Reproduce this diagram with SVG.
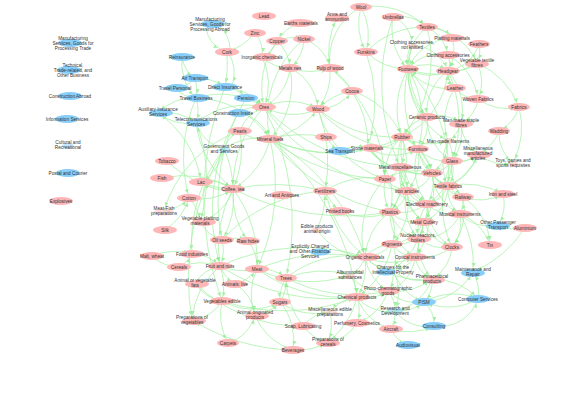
<svg xmlns="http://www.w3.org/2000/svg" width="585" height="413" viewBox="0 0 585 413">
<style>
.e{fill:none;stroke:#a3f2a3;stroke-width:0.9;opacity:0.8;marker-end:url(#ah)}
.g{fill:#ffb6b6}
.s{fill:#87cefa}
.f{fill:#ffb6b6;opacity:0.5}
.fs{fill:#87cefa;opacity:0.5}
text{font-family:"Liberation Sans",Arial,sans-serif;font-size:4.7px;fill:#333;text-anchor:middle}
</style>
<defs>
<marker id="ah" markerUnits="userSpaceOnUse" markerWidth="4" markerHeight="4" refX="9" refY="2" orient="auto">
<path d="M0,0 L4,2 L0,4 z" fill="#8eec8e"/>
</marker>
</defs>
<rect width="585" height="413" fill="#fff"/>
<g id="connectors">
<path class="e" d="M206 28 A30 30 0 0 0 222 50"/>
<path class="e" d="M230 49 A30 30 0 0 0 220 27"/>
<path class="e" d="M255 33 A60 60 0 0 1 227 52"/>
<path class="e" d="M227 52 A120 120 0 0 1 225 87"/>
<path class="e" d="M228 52 A40 40 0 0 1 232 86"/>
<path class="e" d="M182 57 A30 30 0 0 0 195 78"/>
<path class="e" d="M182 57 A50 50 0 0 0 196 98"/>
<path class="e" d="M195 78 A30 30 0 0 1 175 88"/>
<path class="e" d="M195 78 A40 40 0 0 1 196 98"/>
<path class="e" d="M195 78 A50 50 0 0 1 225 87"/>
<path class="e" d="M175 88 A30 30 0 0 0 196 98"/>
<path class="e" d="M225 87 A30 30 0 0 1 246 98"/>
<path class="e" d="M225 87 A60 60 0 0 1 264 107"/>
<path class="e" d="M196 98 A80 80 0 0 1 264 107"/>
<path class="e" d="M246 98 A30 30 0 0 1 264 107"/>
<path class="e" d="M238 113 A40 40 0 0 1 264 107"/>
<path class="e" d="M240 131 A40 40 0 0 1 264 107"/>
<path class="e" d="M196 123 A80 80 0 0 1 264 107"/>
<path class="e" d="M158 113 A50 50 0 0 1 196 123"/>
<path class="e" d="M196 123 A50 50 0 0 1 158 113"/>
<path class="e" d="M196 98 A50 50 0 0 0 158 113"/>
<path class="e" d="M196 98 A40 40 0 0 1 196 123"/>
<path class="e" d="M224 149 A40 40 0 0 1 196 123"/>
<path class="e" d="M224 149 A30 30 0 0 1 240 131"/>
<path class="e" d="M224 149 A60 60 0 0 1 270 139"/>
<path class="e" d="M240 131 A40 40 0 0 0 270 139"/>
<path class="e" d="M238 113 A40 40 0 0 1 270 139"/>
<path class="e" d="M196 98 A90 90 0 0 1 270 139"/>
<path class="e" d="M300 23 A40 40 0 0 0 277 41"/>
<path class="e" d="M277 41 A30 30 0 0 1 262 57"/>
<path class="e" d="M255 33 A30 30 0 0 1 262 57"/>
<path class="e" d="M277 41 A40 40 0 0 1 290 68"/>
<path class="e" d="M304 39 A40 40 0 0 1 290 68"/>
<path class="e" d="M304 39 A40 40 0 0 1 330 68"/>
<path class="e" d="M290 68 A60 60 0 0 0 330 68"/>
<path class="e" d="M330 68 A80 80 0 0 1 337 18"/>
<path class="e" d="M262 57 A40 40 0 0 0 290 68"/>
<path class="e" d="M277 41 A40 40 0 0 1 304 39"/>
<path class="e" d="M361 7 A60 60 0 0 1 366 52"/>
<path class="e" d="M361 7 A60 60 0 0 0 366 52"/>
<path class="e" d="M361 7 A60 60 0 0 0 330 68"/>
<path class="e" d="M352 91 A60 60 0 0 0 330 68"/>
<path class="e" d="M277 41 A80 80 0 0 0 264 107"/>
<path class="e" d="M290 68 A50 50 0 0 1 264 107"/>
<path class="e" d="M262 57 A60 60 0 0 1 264 107"/>
<path class="e" d="M304 39 A100 100 0 0 0 270 139"/>
<path class="e" d="M290 68 A80 80 0 0 1 270 139"/>
<path class="e" d="M290 68 A50 50 0 0 1 318 109"/>
<path class="e" d="M264 107 A60 60 0 0 1 318 109"/>
<path class="e" d="M318 109 A60 60 0 0 1 264 107"/>
<path class="e" d="M318 109 A40 40 0 0 0 352 91"/>
<path class="e" d="M352 91 A60 60 0 0 0 318 109"/>
<path class="e" d="M330 68 A60 60 0 0 1 318 109"/>
<path class="e" d="M270 139 A120 120 0 0 1 326 137"/>
<path class="e" d="M326 137 A40 40 0 0 0 340 151"/>
<path class="e" d="M366 52 A150 150 0 0 1 370 140"/>
<path class="e" d="M352 91 A100 100 0 0 1 368 148"/>
<path class="e" d="M318 109 A120 120 0 0 0 402 137"/>
<path class="e" d="M270 139 A80 80 0 0 0 318 109"/>
<path class="e" d="M224 149 A100 100 0 0 1 233 189"/>
<path class="e" d="M240 131 A100 100 0 0 1 233 189"/>
<path class="e" d="M196 123 A100 100 0 0 0 233 189"/>
<path class="e" d="M158 113 A100 100 0 0 1 201 182"/>
<path class="e" d="M224 149 A50 50 0 0 1 201 182"/>
<path class="e" d="M238 113 A200 200 0 0 0 220 266"/>
<path class="e" d="M196 98 A150 150 0 0 0 189 198"/>
<path class="e" d="M264 107 A120 120 0 0 0 233 189"/>
<path class="e" d="M270 139 A80 80 0 0 1 233 189"/>
<path class="e" d="M246 98 A200 200 0 0 0 222 240"/>
<path class="e" d="M225 87 A300 300 0 0 0 222 301"/>
<path class="e" d="M270 139 A200 200 0 0 1 257 269"/>
<path class="e" d="M264 107 A250 250 0 0 1 286 278"/>
<path class="e" d="M270 139 A200 200 0 0 1 365 257"/>
<path class="e" d="M270 139 A200 200 0 0 0 390 212"/>
<path class="e" d="M270 139 A250 250 0 0 1 357 297"/>
<path class="e" d="M270 139 A150 150 0 0 0 402 137"/>
<path class="e" d="M270 139 A150 150 0 0 0 368 148"/>
<path class="e" d="M264 107 A200 200 0 0 0 400 167"/>
<path class="e" d="M264 107 A200 200 0 0 0 407 191"/>
<path class="e" d="M224 149 A150 150 0 0 0 192 254"/>
<path class="e" d="M196 123 A150 150 0 0 1 200 222"/>
<path class="e" d="M224 149 A250 250 0 0 0 192 320"/>
<path class="e" d="M240 131 A120 120 0 0 0 164 211"/>
<path class="e" d="M167 161 A100 100 0 0 0 233 189"/>
<path class="e" d="M162 178 A100 100 0 0 1 233 189"/>
<path class="e" d="M201 182 A40 40 0 0 1 233 189"/>
<path class="e" d="M233 189 A40 40 0 0 1 201 182"/>
<path class="e" d="M189 198 A60 60 0 0 0 233 189"/>
<path class="e" d="M164 211 A40 40 0 0 0 189 198"/>
<path class="e" d="M189 198 A40 40 0 0 1 200 222"/>
<path class="e" d="M165 230 A60 60 0 0 0 189 198"/>
<path class="e" d="M233 189 A50 50 0 0 1 200 222"/>
<path class="e" d="M200 222 A40 40 0 0 0 222 240"/>
<path class="e" d="M233 189 A80 80 0 0 1 222 240"/>
<path class="e" d="M222 240 A40 40 0 0 1 248 241"/>
<path class="e" d="M233 189 A80 80 0 0 0 248 241"/>
<path class="e" d="M222 240 A40 40 0 0 1 220 266"/>
<path class="e" d="M192 254 A40 40 0 0 1 220 266"/>
<path class="e" d="M179 267 A30 30 0 0 0 192 254"/>
<path class="e" d="M152 256 A40 40 0 0 0 179 267"/>
<path class="e" d="M152 256 A60 60 0 0 1 192 254"/>
<path class="e" d="M220 266 A60 60 0 0 0 257 269"/>
<path class="e" d="M248 241 A40 40 0 0 1 257 269"/>
<path class="e" d="M220 266 A40 40 0 0 0 235 284"/>
<path class="e" d="M235 284 A40 40 0 0 0 257 269"/>
<path class="e" d="M195 283 A40 40 0 0 1 220 266"/>
<path class="e" d="M179 267 A60 60 0 0 1 220 266"/>
<path class="e" d="M195 283 A40 40 0 0 0 222 301"/>
<path class="e" d="M220 266 A60 60 0 0 1 222 301"/>
<path class="e" d="M222 301 A40 40 0 0 1 192 320"/>
<path class="e" d="M220 266 A80 80 0 0 0 192 320"/>
<path class="e" d="M233 189 A120 120 0 0 0 220 266"/>
<path class="e" d="M233 189 A120 120 0 0 1 257 269"/>
<path class="e" d="M257 269 A40 40 0 0 1 286 278"/>
<path class="e" d="M280 302 A40 40 0 0 0 286 278"/>
<path class="e" d="M286 278 A40 40 0 0 0 280 302"/>
<path class="e" d="M255 315 A40 40 0 0 0 280 302"/>
<path class="e" d="M228 343 A40 40 0 0 0 255 315"/>
<path class="e" d="M293 350 A200 200 0 0 1 192 320"/>
<path class="e" d="M293 350 A60 60 0 0 0 328 342"/>
<path class="e" d="M303 326 A40 40 0 0 0 328 342"/>
<path class="e" d="M330 312 A50 50 0 0 1 328 342"/>
<path class="e" d="M357 297 A80 80 0 0 1 328 342"/>
<path class="e" d="M357 323 A40 40 0 0 1 328 342"/>
<path class="e" d="M357 297 A40 40 0 0 1 357 323"/>
<path class="e" d="M357 297 A40 40 0 0 0 330 312"/>
<path class="e" d="M303 326 A80 80 0 0 1 286 278"/>
<path class="e" d="M303 326 A40 40 0 0 1 330 312"/>
<path class="e" d="M257 269 A60 60 0 0 0 255 315"/>
<path class="e" d="M222 301 A60 60 0 0 0 228 343"/>
<path class="e" d="M286 278 A100 100 0 0 1 350 275"/>
<path class="e" d="M257 269 A120 120 0 0 0 350 275"/>
<path class="e" d="M220 266 A200 200 0 0 0 357 297"/>
<path class="e" d="M257 269 A150 150 0 0 0 357 297"/>
<path class="e" d="M350 275 A40 40 0 0 1 357 297"/>
<path class="e" d="M286 278 A150 150 0 0 0 388 291"/>
<path class="e" d="M325 191 A60 60 0 0 0 340 211"/>
<path class="e" d="M317 229 A80 80 0 0 0 325 191"/>
<path class="e" d="M340 211 A60 60 0 0 0 390 212"/>
<path class="e" d="M325 191 A80 80 0 0 1 385 179"/>
<path class="e" d="M233 189 A200 200 0 0 1 325 191"/>
<path class="e" d="M325 191 A120 120 0 0 0 365 257"/>
<path class="e" d="M318 109 A150 150 0 0 1 325 191"/>
<path class="e" d="M317 229 A60 60 0 0 0 365 257"/>
<path class="e" d="M257 269 A200 200 0 0 1 365 257"/>
<path class="e" d="M402 137 A40 40 0 0 1 368 148"/>
<path class="e" d="M402 137 A30 30 0 0 1 418 149"/>
<path class="e" d="M402 137 A40 40 0 0 1 400 167"/>
<path class="e" d="M402 137 A60 60 0 0 1 432 173"/>
<path class="e" d="M418 149 A40 40 0 0 1 432 173"/>
<path class="e" d="M400 167 A40 40 0 0 0 432 173"/>
<path class="e" d="M452 161 A30 30 0 0 1 432 173"/>
<path class="e" d="M400 167 A30 30 0 0 1 385 179"/>
<path class="e" d="M385 179 A40 40 0 0 0 407 191"/>
<path class="e" d="M400 167 A40 40 0 0 1 407 191"/>
<path class="e" d="M432 173 A30 30 0 0 0 448 186"/>
<path class="e" d="M432 173 A40 40 0 0 1 427 204"/>
<path class="e" d="M407 191 A30 30 0 0 0 427 204"/>
<path class="e" d="M448 186 A30 30 0 0 0 463 197"/>
<path class="e" d="M432 173 A50 50 0 0 0 463 197"/>
<path class="e" d="M427 204 A50 50 0 0 1 390 212"/>
<path class="e" d="M385 179 A50 50 0 0 0 390 212"/>
<path class="e" d="M427 204 A30 30 0 0 1 424 222"/>
<path class="e" d="M427 204 A40 40 0 0 0 460 214"/>
<path class="e" d="M463 197 A30 30 0 0 1 460 214"/>
<path class="e" d="M424 222 A30 30 0 0 1 418 238"/>
<path class="e" d="M390 212 A40 40 0 0 1 392 244"/>
<path class="e" d="M418 238 A40 40 0 0 1 392 244"/>
<path class="e" d="M418 238 A30 30 0 0 1 415 257"/>
<path class="e" d="M392 244 A30 30 0 0 0 415 257"/>
<path class="e" d="M452 247 A50 50 0 0 1 415 257"/>
<path class="e" d="M460 214 A40 40 0 0 1 452 247"/>
<path class="e" d="M424 222 A40 40 0 0 0 452 247"/>
<path class="e" d="M392 244 A40 40 0 0 1 365 257"/>
<path class="e" d="M365 257 A40 40 0 0 0 393 270"/>
<path class="e" d="M415 257 A30 30 0 0 1 393 270"/>
<path class="e" d="M393 270 A30 30 0 0 1 388 291"/>
<path class="e" d="M393 270 A40 40 0 0 0 432 279"/>
<path class="e" d="M388 291 A60 60 0 0 0 432 279"/>
<path class="e" d="M432 279 A30 30 0 0 1 424 302"/>
<path class="e" d="M388 291 A30 30 0 0 1 395 311"/>
<path class="e" d="M395 311 A40 40 0 0 0 424 302"/>
<path class="e" d="M395 311 A40 40 0 0 0 434 326"/>
<path class="e" d="M424 302 A30 30 0 0 1 434 326"/>
<path class="e" d="M424 302 A60 60 0 0 1 478 299"/>
<path class="e" d="M478 299 A60 60 0 0 1 424 302"/>
<path class="e" d="M434 326 A40 40 0 0 0 478 299"/>
<path class="e" d="M478 299 A40 40 0 0 0 473 272"/>
<path class="e" d="M424 302 A60 60 0 0 0 473 272"/>
<path class="e" d="M525 228 A120 120 0 0 1 473 272"/>
<path class="e" d="M525 228 A40 40 0 0 1 498 225"/>
<path class="e" d="M503 194 A40 40 0 0 1 498 225"/>
<path class="e" d="M463 197 A50 50 0 0 0 503 194"/>
<path class="e" d="M448 186 A80 80 0 0 1 503 194"/>
<path class="e" d="M460 214 A50 50 0 0 1 490 245"/>
<path class="e" d="M460 214 A100 100 0 0 1 473 272"/>
<path class="e" d="M391 329 A30 30 0 0 0 408 345"/>
<path class="e" d="M395 311 A30 30 0 0 1 391 329"/>
<path class="e" d="M357 297 A50 50 0 0 0 391 329"/>
<path class="e" d="M391 329 A60 60 0 0 0 434 326"/>
<path class="e" d="M365 257 A60 60 0 0 1 357 297"/>
<path class="e" d="M365 257 A50 50 0 0 0 388 291"/>
<path class="e" d="M350 275 A40 40 0 0 0 388 291"/>
<path class="e" d="M432 279 A60 60 0 0 1 478 299"/>
<path class="e" d="M388 291 A50 50 0 0 1 357 323"/>
<path class="e" d="M392 244 A80 80 0 0 1 357 297"/>
<path class="e" d="M418 238 A60 60 0 0 0 432 279"/>
<path class="e" d="M424 222 A80 80 0 0 1 393 270"/>
<path class="e" d="M427 204 A50 50 0 0 0 418 238"/>
<path class="e" d="M452 161 A100 100 0 0 0 452 247"/>
<path class="e" d="M448 141 A30 30 0 0 1 452 161"/>
<path class="e" d="M402 137 A60 60 0 0 0 448 141"/>
<path class="e" d="M427 117 A40 40 0 0 0 402 137"/>
<path class="e" d="M427 117 A40 40 0 0 1 461 123"/>
<path class="e" d="M461 123 A30 30 0 0 1 448 141"/>
<path class="e" d="M461 123 A40 40 0 0 0 478 154"/>
<path class="e" d="M499 131 A40 40 0 0 1 478 154"/>
<path class="e" d="M499 131 A40 40 0 0 0 513 163"/>
<path class="e" d="M478 154 A40 40 0 0 0 513 163"/>
<path class="e" d="M478 99 A50 50 0 0 0 519 107"/>
<path class="e" d="M519 107 A40 40 0 0 1 499 131"/>
<path class="e" d="M519 107 A80 80 0 0 1 513 163"/>
<path class="e" d="M478 99 A30 30 0 0 1 461 123"/>
<path class="e" d="M455 88 A30 30 0 0 0 478 99"/>
<path class="e" d="M452 161 A30 30 0 0 0 478 154"/>
<path class="e" d="M448 186 A60 60 0 0 0 478 154"/>
<path class="e" d="M418 149 A40 40 0 0 0 452 161"/>
<path class="e" d="M368 148 A40 40 0 0 0 400 167"/>
<path class="e" d="M368 148 A40 40 0 0 1 385 179"/>
<path class="e" d="M385 179 A80 80 0 0 0 365 257"/>
<path class="e" d="M390 212 A60 60 0 0 0 365 257"/>
<path class="e" d="M390 212 A40 40 0 0 0 418 238"/>
<path class="e" d="M400 167 A60 60 0 0 0 424 222"/>
<path class="e" d="M407 191 A40 40 0 0 0 424 222"/>
<path class="e" d="M407 191 A30 30 0 0 1 390 212"/>
<path class="e" d="M418 149 A60 60 0 0 0 427 204"/>
<path class="e" d="M432 173 A50 50 0 0 0 460 214"/>
<path class="e" d="M448 186 A30 30 0 0 1 427 204"/>
<path class="e" d="M463 197 A60 60 0 0 1 452 247"/>
<path class="e" d="M393 17 A60 60 0 0 0 408 69"/>
<path class="e" d="M393 17 A40 40 0 0 1 427 27"/>
<path class="e" d="M427 27 A50 50 0 0 0 408 69"/>
<path class="e" d="M427 27 A40 40 0 0 1 448 55"/>
<path class="e" d="M452 38 A50 50 0 0 0 408 69"/>
<path class="e" d="M452 38 A40 40 0 0 1 448 71"/>
<path class="e" d="M479 44 A40 40 0 0 1 448 71"/>
<path class="e" d="M412 45 A30 30 0 0 0 408 69"/>
<path class="e" d="M412 45 A40 40 0 0 1 448 71"/>
<path class="e" d="M448 55 A40 40 0 0 0 408 69"/>
<path class="e" d="M448 55 A20 20 0 0 1 448 71"/>
<path class="e" d="M477 63 A40 40 0 0 1 448 71"/>
<path class="e" d="M477 63 A80 80 0 0 1 408 69"/>
<path class="e" d="M448 71 A40 40 0 0 1 408 69"/>
<path class="e" d="M408 69 A40 40 0 0 1 448 71"/>
<path class="e" d="M455 88 A50 50 0 0 1 408 69"/>
<path class="e" d="M455 88 A20 20 0 0 1 448 71"/>
<path class="e" d="M427 27 A30 30 0 0 1 452 38"/>
<path class="e" d="M479 44 A30 30 0 0 1 477 63"/>
<path class="e" d="M427 27 A60 60 0 0 1 477 63"/>
<path class="e" d="M477 63 A40 40 0 0 1 478 99"/>
<path class="e" d="M408 69 A80 80 0 0 0 402 137"/>
<path class="e" d="M408 69 A150 150 0 0 1 448 186"/>
<path class="e" d="M393 17 A200 200 0 0 0 400 167"/>
<path class="e" d="M448 71 A60 60 0 0 1 461 123"/>
<path class="e" d="M448 71 A20 20 0 0 0 455 88"/>
<path class="e" d="M408 69 A60 60 0 0 0 427 117"/>
<path class="e" d="M448 71 A50 50 0 0 0 427 117"/>
<path class="e" d="M477 63 A80 80 0 0 1 519 107"/>
<path class="e" d="M448 55 A60 60 0 0 1 478 99"/>
<path class="e" d="M408 69 A100 100 0 0 1 418 149"/>
<path class="e" d="M448 71 A120 120 0 0 1 452 161"/>
<path class="e" d="M455 88 A60 60 0 0 0 448 141"/>
<path class="e" d="M393 17 A30 30 0 0 1 412 45"/>
<path class="e" d="M366 52 A60 60 0 0 0 408 69"/>
<path class="e" d="M366 52 A80 80 0 0 1 427 27"/>
<path class="e" d="M361 7 A80 80 0 0 1 427 27"/>
<path class="e" d="M330 68 A150 150 0 0 1 385 179"/>
<path class="e" d="M352 91 A80 80 0 0 1 402 137"/>
<path class="e" d="M340 151 A40 40 0 0 1 368 148"/>
<path class="e" d="M270 139 A200 200 0 0 0 385 179"/>
<path class="e" d="M280 302 A60 60 0 0 0 330 312"/>
<path class="e" d="M280 302 A60 60 0 0 1 293 350"/>
<path class="e" d="M255 315 A60 60 0 0 0 293 350"/>
<path class="e" d="M195 283 A150 150 0 0 0 303 326"/>
<path class="e" d="M222 301 A60 60 0 0 0 280 302"/>
<path class="e" d="M235 284 A40 40 0 0 1 255 315"/>
<path class="e" d="M368 148 A50 50 0 0 0 418 149"/>
<path class="e" d="M368 148 A70 70 0 0 0 432 173"/>
<path class="e" d="M402 137 A50 50 0 0 0 385 179"/>
<path class="e" d="M402 137 A60 60 0 0 0 407 191"/>
<path class="e" d="M402 137 A80 80 0 0 1 390 212"/>
<path class="e" d="M402 137 A70 70 0 0 0 427 204"/>
<path class="e" d="M418 149 A50 50 0 0 0 448 186"/>
<path class="e" d="M418 149 A50 50 0 0 1 407 191"/>
<path class="e" d="M452 161 A30 30 0 0 1 448 186"/>
<path class="e" d="M452 161 A40 40 0 0 0 463 197"/>
<path class="e" d="M452 161 A50 50 0 0 1 427 204"/>
<path class="e" d="M400 167 A50 50 0 0 0 427 204"/>
<path class="e" d="M400 167 A50 50 0 0 1 390 212"/>
<path class="e" d="M432 173 A60 60 0 0 1 424 222"/>
<path class="e" d="M432 173 A30 30 0 0 1 407 191"/>
<path class="e" d="M448 186 A30 30 0 0 0 460 214"/>
<path class="e" d="M448 186 A40 40 0 0 1 424 222"/>
<path class="e" d="M407 191 A50 50 0 0 0 418 238"/>
<path class="e" d="M407 191 A60 60 0 0 1 392 244"/>
<path class="e" d="M390 212 A50 50 0 0 0 415 257"/>
<path class="e" d="M390 212 A40 40 0 0 0 424 222"/>
<path class="e" d="M427 204 A60 60 0 0 1 415 257"/>
<path class="e" d="M427 204 A50 50 0 0 0 452 247"/>
<path class="e" d="M460 214 A40 40 0 0 1 418 238"/>
<path class="e" d="M424 222 A40 40 0 0 1 392 244"/>
<path class="e" d="M418 238 A40 40 0 0 0 452 247"/>
<path class="e" d="M392 244 A30 30 0 0 1 393 270"/>
<path class="e" d="M415 257 A30 30 0 0 0 432 279"/>
<path class="e" d="M415 257 A40 40 0 0 1 388 291"/>
<path class="e" d="M452 247 A40 40 0 0 1 432 279"/>
<path class="e" d="M365 257 A40 40 0 0 1 392 244"/>
<path class="e" d="M365 257 A60 60 0 0 0 415 257"/>
<path class="e" d="M365 257 A80 80 0 0 0 432 279"/>
<path class="e" d="M365 257 A30 30 0 0 1 350 275"/>
<path class="e" d="M357 297 A40 40 0 0 0 388 291"/>
<path class="e" d="M357 297 A40 40 0 0 0 395 311"/>
<path class="e" d="M393 270 A50 50 0 0 1 395 311"/>
<path class="e" d="M393 270 A50 50 0 0 0 424 302"/>
<path class="e" d="M432 279 A50 50 0 0 1 395 311"/>
<path class="e" d="M388 291 A40 40 0 0 0 424 302"/>
<path class="e" d="M385 179 A50 50 0 0 0 427 204"/>
<path class="e" d="M385 179 A60 60 0 0 1 432 173"/>
<path class="e" d="M478 154 A30 30 0 0 1 452 161"/>
<path class="e" d="M478 154 A50 50 0 0 1 448 186"/>
<path class="e" d="M461 123 A50 50 0 0 1 452 161"/>
<path class="e" d="M448 141 A40 40 0 0 1 432 173"/>
<path class="e" d="M448 141 A50 50 0 0 0 448 186"/>
<path class="e" d="M427 117 A40 40 0 0 1 418 149"/>
<path class="e" d="M427 117 A50 50 0 0 0 452 161"/>
<path class="e" d="M408 69 A80 80 0 0 0 448 141"/>
<path class="e" d="M448 71 A80 80 0 0 1 402 137"/>
<path class="e" d="M427 27 A120 120 0 0 1 402 137"/>
<path class="e" d="M412 45 A80 80 0 0 0 427 117"/>
<path class="e" d="M408 69 A120 120 0 0 0 432 173"/>
<path class="e" d="M318 109 A100 100 0 0 0 385 179"/>
<path class="e" d="M318 109 A120 120 0 0 0 418 149"/>
<path class="e" d="M368 148 A60 60 0 0 1 390 212"/>
<path class="e" d="M463 197 A60 60 0 0 1 490 245"/>
<path class="e" d="M460 214 A40 40 0 0 0 498 225"/>
<path class="e" d="M233 189 A250 250 0 0 0 390 212"/>
<path class="e" d="M220 266 A200 200 0 0 1 365 257"/>
<path class="e" d="M222 301 A200 200 0 0 0 357 297"/>
<path class="e" d="M286 278 A100 100 0 0 1 365 257"/>
<path class="e" d="M222 240 A150 150 0 0 1 325 191"/>
</g>
<g id="n-mspt"><ellipse class="s" cx="70" cy="43" rx="12" ry="4"/><text x="73" y="39.5">Manufacturing<tspan x="73" dy="5">Services, Goods for</tspan><tspan x="73" dy="5">Processing Trade</tspan></text></g>
<g id="n-tto"><ellipse class="s" cx="69" cy="70" rx="12" ry="4"/><text x="73" y="66.5">Technical,<tspan x="73" dy="5">Trade-related, and</tspan><tspan x="73" dy="5">Other Business</tspan></text></g>
<g id="n-ca"><ellipse class="s" cx="70" cy="96" rx="12" ry="4"/><text x="70" y="97.6">Construction Abroad</text></g>
<g id="n-is"><ellipse class="s" cx="67" cy="119" rx="12" ry="4"/><text x="67" y="120.6">Information Services</text></g>
<g id="n-cr"><ellipse class="fs" cx="68" cy="146" rx="6" ry="3"/><text x="68" y="144">Cultural and<tspan x="68" dy="5">Recreational</tspan></text></g>
<g id="n-pc"><ellipse class="s" cx="68" cy="173" rx="12" ry="4"/><text x="68" y="174.6">Postal and Courier</text></g>
<g id="n-exp"><ellipse class="g" cx="61" cy="201" rx="12" ry="4"/><text x="61" y="202.6">Explosives</text></g>
<g id="n-mspa"><ellipse class="s" cx="213" cy="24" rx="12" ry="4"/><text x="210" y="20.5">Manufacturing<tspan x="210" dy="5">Services, Goods for</tspan><tspan x="210" dy="5">Processing Abroad</tspan></text></g>
<g id="n-rein"><ellipse class="s" cx="182" cy="57" rx="12" ry="4"/><text x="182" y="58.6">Reinsurance</text></g>
<g id="n-air"><ellipse class="s" cx="195" cy="78" rx="13" ry="4"/><text x="195" y="79.6">Air Transport</text></g>
<g id="n-tp"><ellipse class="s" cx="177" cy="88" rx="12" ry="4"/><text x="175" y="89.6">Travel Personal</text></g>
<g id="n-di"><ellipse class="s" cx="225" cy="87" rx="13" ry="4"/><text x="225" y="88.6">Direct Insurance</text></g>
<g id="n-tb"><ellipse class="s" cx="198" cy="98" rx="12" ry="4"/><text x="196" y="99.6">Travel Business</text></g>
<g id="n-pen"><ellipse class="s" cx="246" cy="98" rx="12" ry="4"/><text x="246" y="99.6">Pension</text></g>
<g id="n-ais"><ellipse class="s" cx="161" cy="113" rx="12" ry="4"/><text x="158" y="111">Auxiliary Insurance<tspan x="158" dy="5">Services</tspan></text></g>
<g id="n-ci"><ellipse class="s" cx="239" cy="113" rx="11" ry="4"/><text x="233" y="114.6">Construction Inside</text></g>
<g id="n-tel"><ellipse class="s" cx="198" cy="123" rx="12" ry="4"/><text x="196" y="121">Telecommunications<tspan x="196" dy="5">Services</tspan></text></g>
<g id="n-gov"><ellipse class="fs" cx="225" cy="150" rx="6" ry="3"/><text x="224" y="148">Government Goods<tspan x="224" dy="5">and Services</tspan></text></g>
<g id="n-cork"><ellipse class="g" cx="227" cy="52" rx="12" ry="4"/><text x="227" y="53.6">Cork</text></g>
<g id="n-lead"><ellipse class="g" cx="264" cy="16" rx="12" ry="4"/><text x="264" y="17.6">Lead</text></g>
<g id="n-zinc"><ellipse class="g" cx="255" cy="33" rx="11" ry="4"/><text x="255" y="34.6">Zinc</text></g>
<g id="n-copper"><ellipse class="g" cx="277" cy="41" rx="11" ry="4"/><text x="277" y="42.6">Copper</text></g>
<g id="n-earths"><ellipse class="g" cx="300" cy="23" rx="14" ry="4"/><text x="301" y="24.6">Earths materials</text></g>
<g id="n-nickel"><ellipse class="g" cx="304" cy="39" rx="11" ry="4"/><text x="304" y="40.6">Nickel</text></g>
<g id="n-inorg"><ellipse class="g" cx="265" cy="57" rx="12" ry="4"/><text x="262" y="58.6">Inorganic chemicals</text></g>
<g id="n-metn"><ellipse class="g" cx="290" cy="68" rx="11" ry="4"/><text x="290" y="69.6">Metals nes</text></g>
<g id="n-pulp"><ellipse class="g" cx="330" cy="68" rx="13" ry="4"/><text x="330" y="69.6">Pulp of wood</text></g>
<g id="n-arms"><ellipse class="g" cx="337" cy="18" rx="12" ry="4"/><text x="337" y="16">Arms and<tspan x="337" dy="5">ammunition</tspan></text></g>
<g id="n-wool"><ellipse class="g" cx="361" cy="7" rx="11" ry="4"/><text x="361" y="8.6">Wool</text></g>
<g id="n-furs"><ellipse class="g" cx="366" cy="52" rx="12" ry="4"/><text x="366" y="53.6">Furskins</text></g>
<g id="n-cocoa"><ellipse class="g" cx="352" cy="91" rx="11" ry="4"/><text x="352" y="92.6">Cocoa</text></g>
<g id="n-ores"><ellipse class="g" cx="264" cy="107" rx="12" ry="4"/><text x="264" y="108.6">Ores</text></g>
<g id="n-pearls"><ellipse class="g" cx="240" cy="131" rx="12" ry="4"/><text x="240" y="132.6">Pearls</text></g>
<g id="n-minf"><ellipse class="g" cx="270" cy="139" rx="13" ry="4"/><text x="270" y="140.6">Mineral fuels</text></g>
<g id="n-wood"><ellipse class="g" cx="318" cy="109" rx="12" ry="4"/><text x="318" y="110.6">Wood</text></g>
<g id="n-ships"><ellipse class="g" cx="326" cy="137" rx="11" ry="4"/><text x="326" y="138.6">Ships</text></g>
<g id="n-sea"><ellipse class="s" cx="340" cy="151" rx="12" ry="4"/><text x="340" y="152.6">Sea Transport</text></g>
<g id="n-umb"><ellipse class="g" cx="393" cy="17" rx="11" ry="4"/><text x="393" y="18.6">Umbrellas</text></g>
<g id="n-text"><ellipse class="g" cx="427" cy="27" rx="11" ry="4"/><text x="427" y="28.6">Textiles</text></g>
<g id="n-plait"><ellipse class="g" cx="452" cy="38" rx="12" ry="4"/><text x="452" y="39.6">Plaiting materials</text></g>
<g id="n-feath"><ellipse class="g" cx="479" cy="44" rx="11" ry="4"/><text x="479" y="45.6">Feathers</text></g>
<g id="n-clnk"><ellipse class="f" cx="412" cy="46" rx="5" ry="3"/><text x="412" y="44">Clothing accessories,<tspan x="412" dy="5">not knitted</tspan></text></g>
<g id="n-clacc"><ellipse class="g" cx="448" cy="55" rx="12" ry="4"/><text x="448" y="56.6">Clothing accessories</text></g>
<g id="n-vtf"><ellipse class="g" cx="477" cy="64" rx="12" ry="4"/><text x="477" y="62">Vegetable textile<tspan x="477" dy="5">fibres</tspan></text></g>
<g id="n-foot"><ellipse class="g" cx="408" cy="69" rx="11" ry="4"/><text x="408" y="70.6">Footwear</text></g>
<g id="n-head"><ellipse class="g" cx="448" cy="71" rx="12" ry="4"/><text x="448" y="72.6">Headgear</text></g>
<g id="n-leath"><ellipse class="g" cx="455" cy="88" rx="11" ry="4"/><text x="455" y="89.6">Leather</text></g>
<g id="n-woven"><ellipse class="g" cx="478" cy="99" rx="12" ry="4"/><text x="478" y="100.6">Woven Fabrics</text></g>
<g id="n-fabr"><ellipse class="g" cx="519" cy="107" rx="11" ry="4"/><text x="519" y="108.6">Fabrics</text></g>
<g id="n-ceram"><ellipse class="g" cx="427" cy="117" rx="11" ry="4"/><text x="427" y="118.6">Ceramic products</text></g>
<g id="n-mmsf"><ellipse class="g" cx="461" cy="124" rx="12" ry="4"/><text x="461" y="122">Man-made staple<tspan x="461" dy="5">fibres</tspan></text></g>
<g id="n-wadd"><ellipse class="g" cx="499" cy="131" rx="11" ry="4"/><text x="499" y="132.6">Wadding</text></g>
<g id="n-rubb"><ellipse class="g" cx="402" cy="137" rx="11" ry="4"/><text x="402" y="138.6">Rubber</text></g>
<g id="n-mmf"><ellipse class="f" cx="448" cy="141" rx="5" ry="3"/><text x="448" y="142.6">Man-made filaments</text></g>
<g id="n-stone"><ellipse class="g" cx="372" cy="148" rx="11" ry="4"/><text x="367" y="149.6">Stone materials</text></g>
<g id="n-furn"><ellipse class="g" cx="418" cy="149" rx="11" ry="4"/><text x="418" y="150.6">Furniture</text></g>
<g id="n-miscm"><ellipse class="g" cx="479" cy="155" rx="12" ry="4"/><text x="478" y="150">Miscellaneous<tspan x="478" dy="5">manufactured</tspan><tspan x="478" dy="5">articles</tspan></text></g>
<g id="n-toys"><ellipse class="f" cx="513" cy="164" rx="5" ry="3"/><text x="513" y="162">Toys, games and<tspan x="513" dy="5">sports requisites</tspan></text></g>
<g id="n-glass"><ellipse class="g" cx="452" cy="161" rx="11" ry="4"/><text x="452" y="162.6">Glass</text></g>
<g id="n-metm"><ellipse class="g" cx="400" cy="167" rx="12" ry="4"/><text x="400" y="168.6">Metal miscellaneous</text></g>
<g id="n-veh"><ellipse class="g" cx="432" cy="173" rx="11" ry="4"/><text x="432" y="174.6">Vehicles</text></g>
<g id="n-paper"><ellipse class="g" cx="385" cy="179" rx="11" ry="4"/><text x="385" y="180.6">Paper</text></g>
<g id="n-texf"><ellipse class="g" cx="448" cy="186" rx="12" ry="4"/><text x="448" y="187.6">Textile fabrics</text></g>
<g id="n-irona"><ellipse class="g" cx="407" cy="191" rx="11" ry="4"/><text x="407" y="192.6">Iron articles</text></g>
<g id="n-rail"><ellipse class="g" cx="463" cy="197" rx="11" ry="4"/><text x="463" y="198.6">Railway</text></g>
<g id="n-irons"><ellipse class="g" cx="503" cy="194" rx="12" ry="4"/><text x="503" y="195.6">Iron and steel</text></g>
<g id="n-elec"><ellipse class="g" cx="427" cy="204" rx="12" ry="4"/><text x="427" y="205.6">Electrical machinery</text></g>
<g id="n-plas"><ellipse class="g" cx="390" cy="212" rx="11" ry="4"/><text x="390" y="213.6">Plastics</text></g>
<g id="n-mus"><ellipse class="g" cx="460" cy="214" rx="12" ry="4"/><text x="460" y="215.6">Musical instruments</text></g>
<g id="n-cut"><ellipse class="g" cx="424" cy="222" rx="11" ry="4"/><text x="424" y="223.6">Metal Cutlery</text></g>
<g id="n-opt"><ellipse class="s" cx="498" cy="226" rx="12" ry="4"/><text x="498" y="224">Other Passenger<tspan x="498" dy="5">Transport</tspan></text></g>
<g id="n-alu"><ellipse class="g" cx="525" cy="228" rx="12" ry="4"/><text x="525" y="229.6">Aluminium</text></g>
<g id="n-nuc"><ellipse class="g" cx="419" cy="239" rx="12" ry="4"/><text x="418" y="237">Nuclear reactors,<tspan x="418" dy="5">boilers</tspan></text></g>
<g id="n-pig"><ellipse class="g" cx="392" cy="244" rx="11" ry="4"/><text x="392" y="245.6">Pigments</text></g>
<g id="n-clock"><ellipse class="g" cx="452" cy="247" rx="11" ry="4"/><text x="452" y="248.6">Clocks</text></g>
<g id="n-tin"><ellipse class="g" cx="490" cy="245" rx="12" ry="4"/><text x="490" y="246.6">Tin</text></g>
<g id="n-opti"><ellipse class="g" cx="415" cy="257" rx="12" ry="4"/><text x="415" y="258.6">Optical instruments</text></g>
<g id="n-org"><ellipse class="g" cx="368" cy="257" rx="12" ry="4"/><text x="365" y="258.6">Organic chemicals</text></g>
<g id="n-mr"><ellipse class="s" cx="473" cy="273" rx="12" ry="4"/><text x="473" y="271">Maintenance and<tspan x="473" dy="5">Repair</tspan></text></g>
<g id="n-ip"><ellipse class="s" cx="386" cy="272" rx="10" ry="3.5"/><text x="393" y="269">Charges for the<tspan x="393" dy="5">Intellectual Property</tspan></text></g>
<g id="n-pharm"><ellipse class="g" cx="434" cy="280" rx="11" ry="4"/><text x="432" y="278">Pharmaceutical<tspan x="432" dy="5">products</tspan></text></g>
<g id="n-photo"><ellipse class="g" cx="389" cy="291" rx="11" ry="4"/><text x="388" y="289.5">Photo-cinematographic<tspan x="388" dy="5">goods</tspan></text></g>
<g id="n-rd"><ellipse class="fs" cx="395" cy="311" rx="8" ry="3.5"/><text x="395" y="309.5">Research and<tspan x="395" dy="5">Development</tspan></text></g>
<g id="n-pism"><ellipse class="s" cx="424" cy="302" rx="12" ry="4"/><text x="424" y="303.6">PISM</text></g>
<g id="n-comp"><ellipse class="s" cx="478" cy="299" rx="12" ry="4"/><text x="478" y="300.6">Computer Services</text></g>
<g id="n-cons"><ellipse class="s" cx="434" cy="326" rx="12" ry="4"/><text x="434" y="327.6">Consulting</text></g>
<g id="n-airc"><ellipse class="g" cx="391" cy="329" rx="12" ry="4"/><text x="391" y="330.6">Aircraft</text></g>
<g id="n-aud"><ellipse class="s" cx="408" cy="345" rx="12" ry="4"/><text x="408" y="346.6">Audiovisual</text></g>
<g id="n-chem"><ellipse class="g" cx="357" cy="297" rx="13" ry="4"/><text x="357" y="298.6">Chemical products</text></g>
<g id="n-alb"><ellipse class="f" cx="350" cy="276" rx="6" ry="3"/><text x="350" y="274">Albuminoidal<tspan x="350" dy="5">substances</tspan></text></g>
<g id="n-perf"><ellipse class="g" cx="357" cy="323" rx="13" ry="4"/><text x="357" y="324.6">Perfumery, Cosmetics</text></g>
<g id="n-soap"><ellipse class="g" cx="303" cy="326" rx="12" ry="4"/><text x="303" y="327.6">Soap, Lubricating</text></g>
<g id="n-prepc"><ellipse class="g" cx="328" cy="343" rx="12" ry="4"/><text x="328" y="341">Preparations of<tspan x="328" dy="5">cereals</tspan></text></g>
<g id="n-misce"><ellipse class="f" cx="330" cy="313" rx="8" ry="3"/><text x="330" y="310.5">Miscellaneous edible<tspan x="330" dy="5">preparations</tspan></text></g>
<g id="n-bev"><ellipse class="g" cx="293" cy="350" rx="12" ry="4"/><text x="293" y="351.6">Beverages</text></g>
<g id="n-carp"><ellipse class="g" cx="228" cy="343" rx="11" ry="4"/><text x="228" y="344.6">Carpets</text></g>
<g id="n-anop"><ellipse class="g" cx="257" cy="316" rx="12" ry="4"/><text x="255" y="314">Animal originated<tspan x="255" dy="5">products</tspan></text></g>
<g id="n-sug"><ellipse class="g" cx="280" cy="302" rx="11" ry="4"/><text x="280" y="303.6">Sugars</text></g>
<g id="n-trees"><ellipse class="g" cx="286" cy="278" rx="11" ry="4"/><text x="286" y="279.6">Trees</text></g>
<g id="n-anlive"><ellipse class="g" cx="235" cy="284" rx="12" ry="4"/><text x="235" y="285.6">Animals: live</text></g>
<g id="n-veged"><ellipse class="g" cx="222" cy="301" rx="12" ry="4"/><text x="222" y="302.6">Vegetables edible</text></g>
<g id="n-prepv"><ellipse class="g" cx="194" cy="321" rx="12" ry="4"/><text x="192" y="319">Preparations of<tspan x="192" dy="5">vegetables</tspan></text></g>
<g id="n-fats"><ellipse class="g" cx="197" cy="284" rx="12" ry="4"/><text x="195" y="282">Animal or vegetable<tspan x="195" dy="5">fats</tspan></text></g>
<g id="n-fruit"><ellipse class="g" cx="220" cy="266" rx="12" ry="4"/><text x="220" y="267.6">Fruit and nuts</text></g>
<g id="n-meat"><ellipse class="g" cx="257" cy="269" rx="12" ry="4"/><text x="257" y="270.6">Meat</text></g>
<g id="n-cereal"><ellipse class="g" cx="179" cy="267" rx="12" ry="4"/><text x="179" y="268.6">Cereals</text></g>
<g id="n-malt"><ellipse class="g" cx="152" cy="256" rx="12" ry="4"/><text x="152" y="257.6">Malt, wheat</text></g>
<g id="n-foodi"><ellipse class="g" cx="192" cy="254" rx="12" ry="4"/><text x="192" y="255.6">Food industries</text></g>
<g id="n-silk"><ellipse class="g" cx="165" cy="230" rx="12" ry="4"/><text x="165" y="231.6">Silk</text></g>
<g id="n-vpm"><ellipse class="g" cx="204" cy="222" rx="12" ry="4"/><text x="200" y="220">Vegetable plaiting<tspan x="200" dy="5">materials</tspan></text></g>
<g id="n-oils"><ellipse class="g" cx="222" cy="240" rx="12" ry="4"/><text x="222" y="241.6">Oil seeds</text></g>
<g id="n-rawh"><ellipse class="g" cx="248" cy="241" rx="12" ry="4"/><text x="248" y="242.6">Raw hides</text></g>
<g id="n-mfp"><ellipse class="f" cx="164" cy="212" rx="10" ry="3.5"/><text x="164" y="210">Meat-Fish<tspan x="164" dy="5">preparations</tspan></text></g>
<g id="n-cotton"><ellipse class="g" cx="189" cy="198" rx="12" ry="4"/><text x="189" y="199.6">Cotton</text></g>
<g id="n-lac"><ellipse class="g" cx="201" cy="182" rx="12" ry="4"/><text x="201" y="183.6">Lac</text></g>
<g id="n-fish"><ellipse class="g" cx="162" cy="178" rx="12" ry="4"/><text x="162" y="179.6">Fish</text></g>
<g id="n-tobac"><ellipse class="g" cx="167" cy="161" rx="12" ry="4"/><text x="167" y="162.6">Tobacco</text></g>
<g id="n-coffee"><ellipse class="g" cx="233" cy="189" rx="12" ry="4"/><text x="233" y="190.6">Coffee, tea</text></g>
<g id="n-art"><ellipse class="g" cx="282" cy="195" rx="12" ry="4"/><text x="282" y="196.6">Art and Antiques</text></g>
<g id="n-fert"><ellipse class="g" cx="325" cy="191" rx="12" ry="4"/><text x="325" y="192.6">Fertilizers</text></g>
<g id="n-books"><ellipse class="g" cx="340" cy="211" rx="12" ry="4"/><text x="340" y="212.6">Printed books</text></g>
<g id="n-edible"><ellipse class="f" cx="317" cy="230" rx="6" ry="3"/><text x="317" y="228">Edible products<tspan x="317" dy="5">animal origin</tspan></text></g>
<g id="n-expf"><ellipse class="s" cx="320" cy="252" rx="10" ry="3.5"/><text x="310" y="248">Explicitly Charged<tspan x="310" dy="5">and Other Financial</tspan><tspan x="310" dy="5">Services</tspan></text></g>
</svg>
